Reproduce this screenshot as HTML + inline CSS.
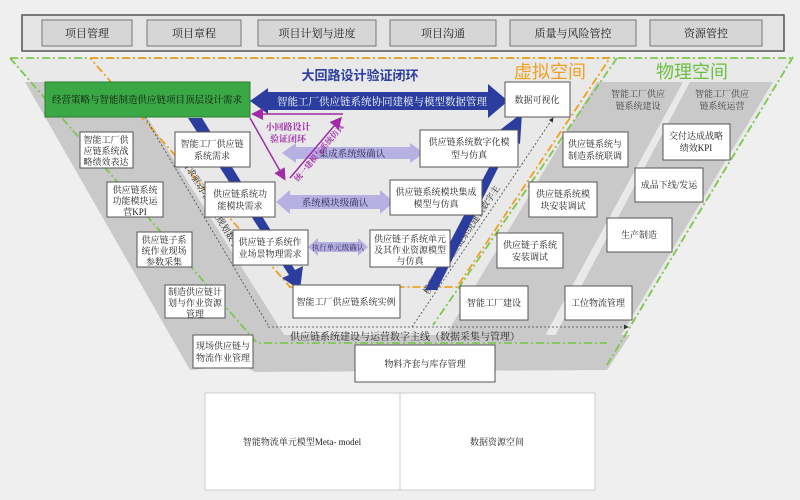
<!DOCTYPE html>
<html><head><meta charset="utf-8"><style>
body{margin:0;background:#f0f0f0;}
svg{display:block;font-family:"Liberation Serif","Noto Serif CJK SC","Noto Sans CJK SC",serif;}
</style></head><body>
<svg width="800" height="500" viewBox="0 0 800 500" xmlns="http://www.w3.org/2000/svg">
<defs>
<marker id="mg" markerWidth="8" markerHeight="8" refX="6" refY="4" orient="auto"><path d="M0,0L8,4L0,8z" fill="#a02aa8"/></marker>
<marker id="dk" markerWidth="6" markerHeight="6" refX="5" refY="3" orient="auto"><path d="M0,0L6,3L0,6z" fill="#333"/></marker>
</defs>
<rect width="800" height="500" fill="#efefef"/>
<!-- top bar -->
<rect x="22" y="15" width="762" height="36" fill="#e4e4e4" stroke="#555" stroke-width="1.5"/>
<g fill="#d6d6d6" stroke="#777" font-size="11" text-anchor="middle">
<rect x="42" y="20" width="90" height="26"/><rect x="147" y="20" width="94" height="26"/><rect x="258" y="20" width="118" height="26"/><rect x="390" y="20" width="106" height="26"/><rect x="510" y="20" width="126" height="26"/><rect x="650" y="20" width="112" height="26"/>
</g>
<g font-size="11" text-anchor="middle" fill="#222">
<text x="87" y="37">项目管理</text><text x="194" y="37">项目章程</text><text x="317" y="37">项目计划与进度</text><text x="443" y="37">项目沟通</text><text x="573" y="37">质量与风险管控</text><text x="706" y="37">资源管控</text>
</g>
<!-- funnel fill -->
<polygon points="10,58 793,58 607,365 255,365" fill="#e9e9e9"/>
<!-- gray bands -->
<polygon points="25,82 125,82 300,360 190,370 " fill="#c9c9c9"/>
<polygon points="597,82 683,82 540,345 440,345" fill="#c9c9c9"/>
<polygon points="690,82 773,82 615,345 550,345" fill="#c9c9c9"/>
<polygon points="190,335 630,335 607,370 255,372" fill="#c9c9c9"/>
<!-- lines -->
<polyline points="10,58 257,343 607,343" fill="none" stroke="#7cc84a" stroke-width="1.8" stroke-dasharray="8,3,2,3"/>
<line x1="10" y1="58" x2="793" y2="58" stroke="#7cc84a" stroke-width="1.8" stroke-dasharray="8,3,2,3"/>
<line x1="793" y1="57" x2="607" y2="365" stroke="#7cc84a" stroke-width="1.8" stroke-dasharray="8,3,2,3"/>
<line x1="617" y1="58" x2="433" y2="325" stroke="#7cc84a" stroke-width="1.8" stroke-dasharray="8,3,2,3"/>
<polyline points="90,58 610,58 457,287 290,287 90,58" fill="none" stroke="#f0a020" stroke-width="1.8" stroke-dasharray="8,3,2,3"/>
<!-- dotted -->
<line x1="145" y1="117" x2="268" y2="325" stroke="#444" stroke-width="0.8" stroke-dasharray="2,2"/>
<line x1="268" y1="327" x2="628" y2="327" stroke="#444" stroke-width="0.8" stroke-dasharray="2,2" marker-end="url(#dk)"/>
<line x1="412" y1="327" x2="553" y2="118" stroke="#444" stroke-width="0.8" stroke-dasharray="2,2" marker-end="url(#dk)"/>
<text x="405" y="340" font-size="10" text-anchor="middle" fill="#222">供应链系统建设与运营数字主线（数据采集与管理）</text>
<text transform="translate(182,162) rotate(59)" font-size="9" fill="#222">需求驱动-供应链规划数字主线</text>
<text transform="translate(428,295) rotate(-56)" font-size="9" fill="#222">模型驱动-供应链系统建模数字主</text>
<!-- blue V -->
<polygon points="188,118 202,118 295,270 303,266 300,290 282,278 289,275" fill="#2b3ea0"/>
<polygon points="425,290 437,290 512,140 520,144 522,113 500,130 507,133" fill="#2b3ea0"/>
<!-- big blue arrow -->
<polygon points="250,101 268,88 268,92 488,92 488,84 508,101 488,118 488,110 268,110 268,114" fill="#2b3ea0"/>
<text x="382" y="105" font-size="10.5" text-anchor="middle" fill="#fff">智能工厂供应链系统协同建模与模型数据管理</text>
<text x="360" y="80" font-size="13" font-weight="bold" text-anchor="middle" fill="#2b3ea0" font-family="Liberation Sans,Noto Sans CJK SC,sans-serif">大回路设计验证闭环</text>
<text x="550" y="78" font-size="18" text-anchor="middle" fill="#f0a020" font-family="Liberation Sans,Noto Sans CJK SC,sans-serif">虚拟空间</text>
<text x="692" y="78" font-size="18" text-anchor="middle" fill="#6cc040" font-family="Liberation Sans,Noto Sans CJK SC,sans-serif">物理空间</text>
<!-- lavender arrows -->
<g fill="#b7b0e2">
<polygon points="282,153 296,143 296,147 410,147 410,143 424,153 410,163 410,159 296,159 296,163"/>
<polygon points="276,202 290,190 290,195 380,195 380,190 394,202 380,214 380,209 290,209 290,214"/>
<polygon points="308,247 318,238 318,242 358,242 358,238 368,247 358,256 358,252 318,252 318,256"/>
</g>
<g font-size="9.5" text-anchor="middle" fill="#2a2a55">
<text x="352" y="157">集成系统级确认</text><text x="335" y="206">系统模块级确认</text><text x="338" y="250" font-size="7.5">执行单元级确认</text>
</g>
<!-- magenta triangle -->
<line x1="343" y1="114" x2="254" y2="114" stroke="#a02aa8" stroke-width="1.5" marker-end="url(#mg)"/>
<line x1="250" y1="118" x2="284" y2="178" stroke="#a02aa8" stroke-width="1.5" marker-end="url(#mg)"/>
<line x1="290" y1="178" x2="340" y2="119" stroke="#a02aa8" stroke-width="1.5" marker-end="url(#mg)"/>
<text x="288" y="130" font-size="9" font-weight="bold" text-anchor="middle" fill="#a02aa8">小回路设计</text>
<text x="288" y="142" font-size="9" font-weight="bold" text-anchor="middle" fill="#a02aa8">验证闭环</text>
<text transform="translate(298,182) rotate(-50)" font-size="8" font-weight="bold" fill="#a02aa8">统一建模与系统仿真</text>
<!-- green box -->
<rect x="45" y="82" width="205" height="35" fill="#3aa845" stroke="#2a7a30"/>
<text x="147" y="103" font-size="9.5" text-anchor="middle" fill="#111">经营策略与智能制造供应链项目顶层设计需求</text>
<!-- white boxes -->
<g fill="#fff" stroke="#555" stroke-width="1">
<rect x="175" y="132" width="75" height="35"/><rect x="205" y="182" width="70" height="35"/><rect x="233" y="230" width="75" height="35"/><rect x="293" y="285" width="107" height="33"/>
<rect x="420" y="130" width="98" height="37"/><rect x="390" y="180" width="92" height="35"/><rect x="370" y="230" width="80" height="37"/><rect x="505" y="82" width="65" height="35"/>
<rect x="80" y="132" width="53" height="36"/><rect x="107" y="182" width="56" height="35"/><rect x="137" y="232" width="55" height="35"/><rect x="165" y="285" width="60" height="33"/><rect x="193" y="335" width="60" height="33"/>
<rect x="563" y="132" width="65" height="35"/><rect x="529" y="182" width="68" height="35"/><rect x="497" y="233" width="66" height="35"/><rect x="460" y="286" width="68" height="34"/><rect x="565" y="286" width="67" height="34"/>
<rect x="663" y="124" width="67" height="36"/><rect x="635" y="168" width="68" height="34"/><rect x="607" y="218" width="65" height="34"/>
<rect x="355" y="345" width="140" height="37"/>
<rect x="205" y="393" width="195" height="97" stroke="#ccc"/><rect x="400" y="393" width="195" height="97" stroke="#ccc"/>
</g>
<g font-size="9" text-anchor="middle" fill="#222">
<text x="212" y="147">智能工厂供应链</text><text x="212" y="159">系统需求</text>
<text x="240" y="197">供应链系统功</text><text x="240" y="209">能模块需求</text>
<text x="270" y="245">供应链子系统作</text><text x="270" y="257">业场景物理需求</text>
<text x="346" y="305">智能工厂供应链系统实例</text>
<text x="469" y="145">供应链系统数字化模</text><text x="469" y="158">型与仿真</text>
<text x="436" y="195">供应链系统模块集成</text><text x="436" y="207">模型与仿真</text>
<text x="410" y="242">供应链子系统单元</text><text x="410" y="253">及其作业资源模型</text><text x="410" y="264">与仿真</text>
<text x="537" y="103">数据可视化</text>
<text x="106" y="143">智能工厂供</text><text x="106" y="154">应链系统战</text><text x="106" y="165">略绩效表达</text>
<text x="135" y="193">供应链系统</text><text x="135" y="204">功能模块运</text><text x="135" y="215">营KPI</text>
<text x="164" y="243">供应链子系</text><text x="164" y="254">统作业现场</text><text x="164" y="265">参数采集</text>
<text x="195" y="295">制造供应链计</text><text x="195" y="306">划与作业资源</text><text x="195" y="317">管理</text>
<text x="223" y="349">现场供应链与</text><text x="223" y="361">物流作业管理</text>
<text x="595" y="147">供应链系统与</text><text x="595" y="159">制造系统联调</text>
<text x="563" y="197">供应链系统模</text><text x="563" y="209">块安装调试</text>
<text x="530" y="248">供应链子系统</text><text x="530" y="260">安装调试</text>
<text x="494" y="306">智能工厂建设</text><text x="598" y="306">工位物流管理</text>
<text x="696" y="139">交付达成战略</text><text x="696" y="151">绩效KPI</text>
<text x="669" y="188">成品下线/发运</text><text x="639" y="238">生产制造</text>
<text x="425" y="367">物料齐套与库存管理</text>
<text x="638" y="97" fill="#444">智能工厂供应</text><text x="638" y="109" fill="#444">链系统建设</text>
<text x="722" y="97" fill="#444">智能工厂供应</text><text x="722" y="109" fill="#444">链系统运营</text>
<text x="302" y="445">智能物流单元模型Meta- model</text>
<text x="497" y="445">数据资源空间</text>
</g>
</svg>
</body></html>
